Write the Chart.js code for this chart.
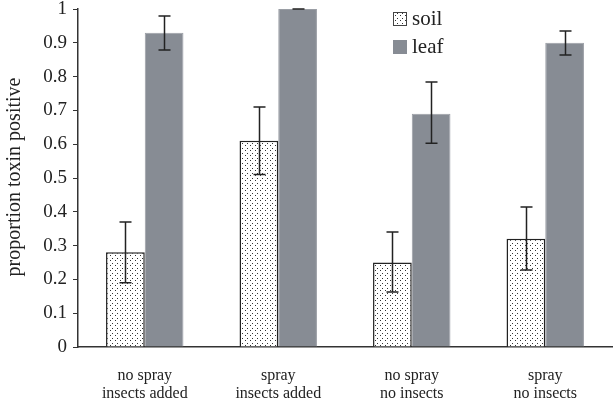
<!DOCTYPE html>
<html>
<head>
<meta charset="utf-8">
<script src="https://cdn.jsdelivr.net/npm/chart.js@4"></script>
<style>
  html, body { margin: 0; padding: 0; background: #fff; }
  #wrap { width: 616px; height: 400px; }
</style>
</head>
<body>
<div id="wrap"><canvas id="toxinChart"></canvas></div>
<script>
// data
var groups = [['no spray', 'insects added'], ['spray', 'insects added'], ['no spray', 'no insects'], ['spray', 'no insects']];
var soil = [0.28, 0.61, 0.25, 0.32];
var soilLow = [0.19, 0.51, 0.163, 0.228];
var soilHigh = [0.37, 0.71, 0.34, 0.414];
var leaf = [0.93, 1.0, 0.69, 0.90];
var leafLow = [0.879, 1.0, 0.603, 0.864];
var leafHigh = [0.979, 1.0, 0.784, 0.935];
var yTicks = ['0', '0.1', '0.2', '0.3', '0.4', '0.5', '0.6', '0.7', '0.8', '0.9', '1'];
var yTitle = 'proportion toxin positive';

var serif = '"Liberation Serif", "Times New Roman", serif';
var leafColor = '#878c94';

// stipple fill for the soil bars
function dots() {
    var c = document.createElement('canvas');
    c.width = 5; c.height = 5;
    var g = c.getContext('2d');
    g.fillStyle = '#fff';
    g.fillRect(0, 0, 5, 5);
    g.fillStyle = '#333';
    g.fillRect(0, 0, 1, 1);
    g.fillRect(2, 3, 1, 1);
    return g.createPattern(c, 'repeat');
}
var soilFill = dots();

var errorBars = {
    id: 'errorBars',
    afterDatasetsDraw: function(chart) {
        var ctx = chart.ctx;
        var y = chart.scales.y;
        var sets = [[soilLow, soilHigh], [leafLow, leafHigh]];
        ctx.save();
        ctx.strokeStyle = '#222';
        ctx.lineWidth = 1.5;
        sets.forEach(function(s, di) {
            chart.getDatasetMeta(di).data.forEach(function(bar, i) {
                var x = Math.round(bar.x) + 0.5;
                var lo = y.getPixelForValue(s[0][i]);
                var hi = y.getPixelForValue(s[1][i]);
                ctx.beginPath();
                ctx.moveTo(x, lo); ctx.lineTo(x, hi);
                ctx.moveTo(x - 6, lo); ctx.lineTo(x + 6, lo);
                ctx.moveTo(x - 6, hi); ctx.lineTo(x + 6, hi);
                ctx.stroke();
            });
        });
        ctx.restore();
    }
};

// legend box and the axis title
var boxLegend = {
    id: 'boxLegend',
    afterDraw: function(chart) {
        var ctx = chart.ctx;
        var items = [['soil', soilFill, '#444'], ['leaf', leafColor, leafColor]];
        ctx.save();
        ctx.font = '21px ' + serif;
        ctx.textBaseline = 'middle';
        items.forEach(function(it, i) {
            var top = 12 + i * 28;
            ctx.fillStyle = it[1];
            ctx.fillRect(393, top, 14, 14);
            ctx.strokeStyle = it[2];
            ctx.lineWidth = 1;
            ctx.strokeRect(393.5, top + 0.5, 13, 13);
            ctx.fillStyle = '#222';
            ctx.fillText(it[0], 412, top + 7);
        });
        ctx.translate(15, 177);
        ctx.rotate(-Math.PI / 2);
        ctx.font = '20px ' + serif;
        ctx.textAlign = 'center';
        ctx.fillText(yTitle, 0, 0);
        ctx.restore();
    }
};

document.addEventListener('DOMContentLoaded', function() {
    var ctx = document.getElementById('toxinChart').getContext('2d');
    var toxinChart = new Chart(ctx, {
        type: 'bar',
        data: {
            labels: groups,
            datasets: [{
                label: 'soil',
                data: soil,
                backgroundColor: soilFill,
                borderColor: '#222',
                borderWidth: 1.5
            }, {
                label: 'leaf',
                data: leaf,
                backgroundColor: leafColor,
                borderColor: '#9a9ea5',
                borderWidth: 1
            }]
        },
        options: {
            responsive: true,
            maintainAspectRatio: false,
            animation: false,
            layout: { padding: { top: 9, right: 4, left: 4, bottom: 0 } },
            datasets: { bar: { categoryPercentage: 0.58, barPercentage: 1 } },
            plugins: {
                legend: { display: false },
                tooltip: { enabled: false }
            },
            scales: {
                x: {
                    afterFit: function(s) { s.height = 53; s.paddingLeft = 0; s.paddingRight = 0; },
                    grid: { display: false },
                    border: { color: '#333', width: 1.5 },
                    ticks: { color: '#222', font: { family: serif, size: 16, lineHeight: 1.1 }, padding: 12 }
                },
                y: {
                    min: 0,
                    max: 1,
                    afterFit: function(s) { s.width = 74; s.paddingTop = 0; s.paddingBottom = 0; },
                    grid: { drawOnChartArea: false, tickLength: 5, color: '#333' },
                    border: { color: '#333', width: 1.5 },
                    ticks: {
                        stepSize: 0.1,
                        color: '#222',
                        font: { family: serif, size: 19 },
                        padding: 6,
                        callback: function(v, i) { return yTicks[i]; }
                    }
                }
            }
        },
        plugins: [errorBars, boxLegend]
    });
});
</script>
</body>
</html>
